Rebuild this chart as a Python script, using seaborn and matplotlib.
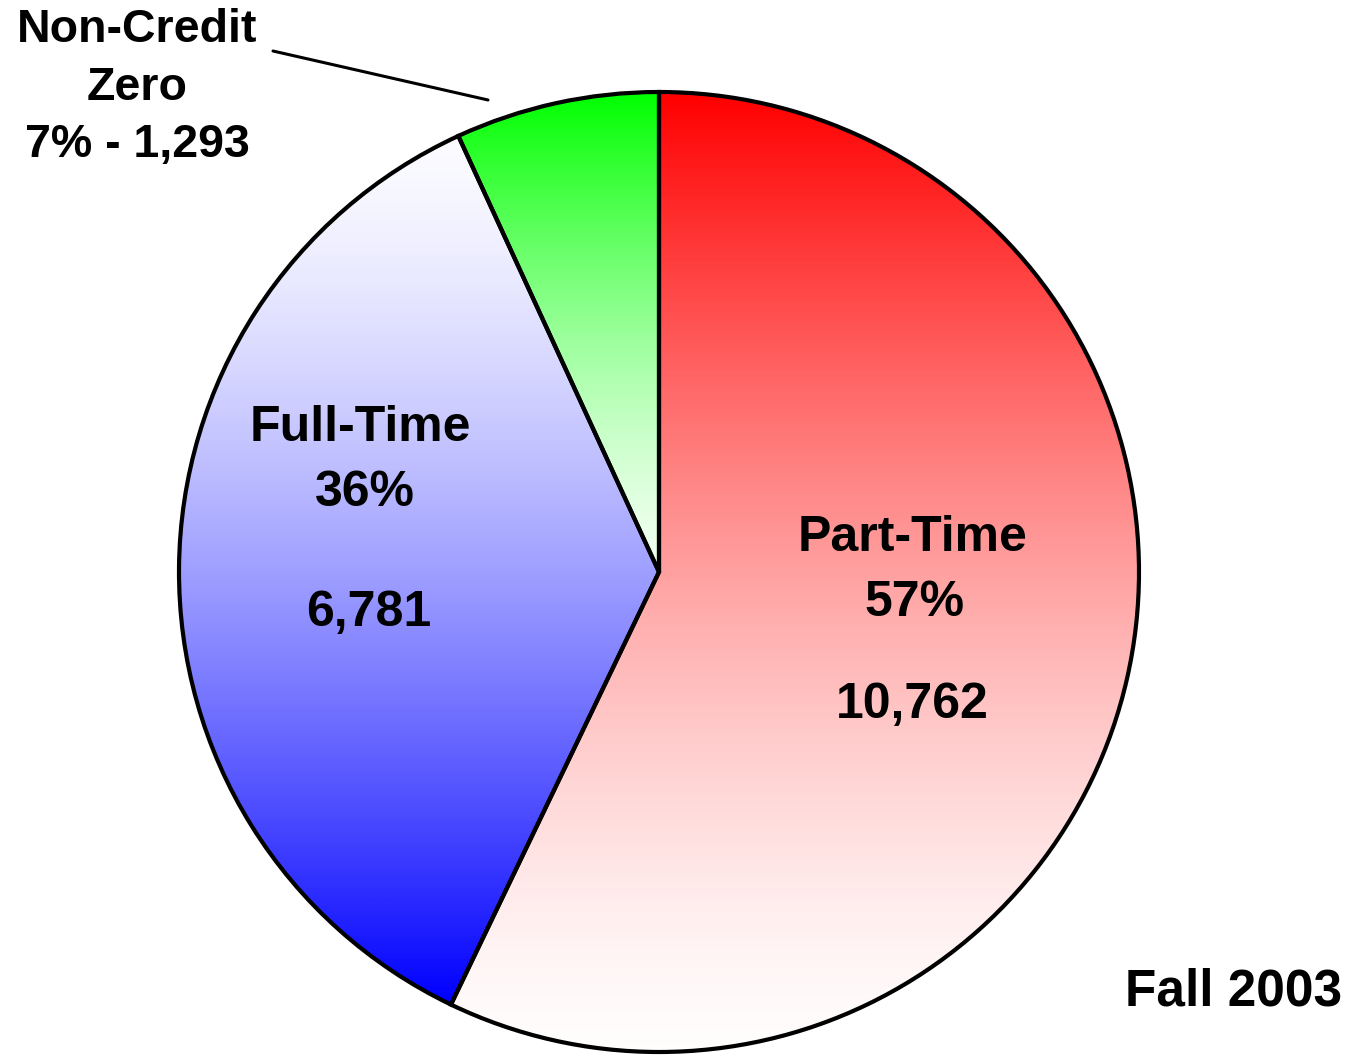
import numpy as np
import matplotlib
matplotlib.use("Agg")
import matplotlib.pyplot as plt
import seaborn as sns
from matplotlib.colors import ListedColormap, to_rgb

sns.set_theme(style="white")
plt.rcParams['font.family'] = ['Liberation Sans', 'DejaVu Sans']

# Data
categories = ["Part-Time", "Full-Time", "Non-Credit Zero"]
counts = [10762, 6781, 1293]
percent_labels = ["57%", "36%", "7%"]
count_labels = ["10,762", "6,781", "1,293"]
title_text = "Fall 2003"

# gradient colors (top, bottom) per slice; saturated end and light end
grad_colors = [("#FF0000", "#FFFDFD"), ("#FBFBFF", "#0000FF"), ("#00FF00", "#F0FFF0")]

W, H = 1359, 1057
fig = plt.figure(figsize=(W / 100, H / 100), dpi=100)
ax = fig.add_axes([0, 0, 1, 1])


def Y(y):
    return H - y


cx, cy, R = 659, Y(572), 480
wedges, _ = ax.pie(counts, startangle=90, counterclock=False, center=(cx, cy),
                   radius=R, frame=True,
                   wedgeprops=dict(facecolor="none", edgecolor="black", linewidth=3.0))
ax.set_xlim(0, W)
ax.set_ylim(0, H)
ax.axis("off")


def make_cmap(bottom, top):
    b = np.array(to_rgb(bottom))
    t = np.array(to_rgb(top))
    s = np.linspace(0, 1, 256)
    # determine which end is the light one
    if b.sum() > t.sum():
        light, sat = b, t
        c = (s) ** 1.45  # s=0 bottom(light) -> s=1 top (sat)
    else:
        light, sat = t, b
        c = (1 - s) ** 1.45  # s=0 bottom(sat)
    cols = light[None, :] * (1 - c[:, None]) + sat[None, :] * c[:, None]
    return ListedColormap(cols)


for w, (top, bot) in zip(wedges, grad_colors):
    t = np.linspace(np.radians(w.theta1), np.radians(w.theta2), 400)
    xs = np.concatenate([[w.center[0]], w.center[0] + w.r * np.cos(t)])
    ys = np.concatenate([[w.center[1]], w.center[1] + w.r * np.sin(t)])
    cmap = make_cmap(bot, top)
    grad = np.linspace(0, 1, 256).reshape(-1, 1)
    im = ax.imshow(grad, cmap=cmap, origin="lower", aspect="auto",
                   extent=[xs.min(), xs.max(), ys.min(), ys.max()], zorder=0.5,
                   interpolation="bilinear")
    im.set_clip_path(w)
    w.set_zorder(1)

ax.set_xlim(0, W)
ax.set_ylim(0, H)

fs = 36
kw = dict(ha="center", va="center", fontweight="bold", color="black")
# Part-Time
ax.text(913, Y(538), categories[0], fontsize=fs, **kw)
ax.text(915, Y(603), percent_labels[0], fontsize=fs, **kw)
ax.text(912, Y(705), count_labels[0], fontsize=fs, **kw)
# Full-Time
ax.text(360, Y(428), categories[1], fontsize=fs, **kw)
ax.text(365, Y(493), percent_labels[1], fontsize=fs, **kw)
ax.text(369, Y(613), count_labels[1], fontsize=fs, **kw)
# Non-Credit
fs2 = 33.5
ax.text(137, Y(30), "Non-Credit", fontsize=fs2, **kw)
ax.text(137, Y(88), "Zero", fontsize=fs2, **kw)
ax.text(137, Y(145), f"{percent_labels[2]} - {count_labels[2]}", fontsize=fs2, **kw)
ax.plot([273, 488], [Y(51), Y(100)], color="black", linewidth=2.2)

ax.text(1342, Y(992), title_text, fontsize=37, ha="right", va="center",
        fontweight="bold", color="black")

fig.savefig("out.png", dpi=100, facecolor="white")
